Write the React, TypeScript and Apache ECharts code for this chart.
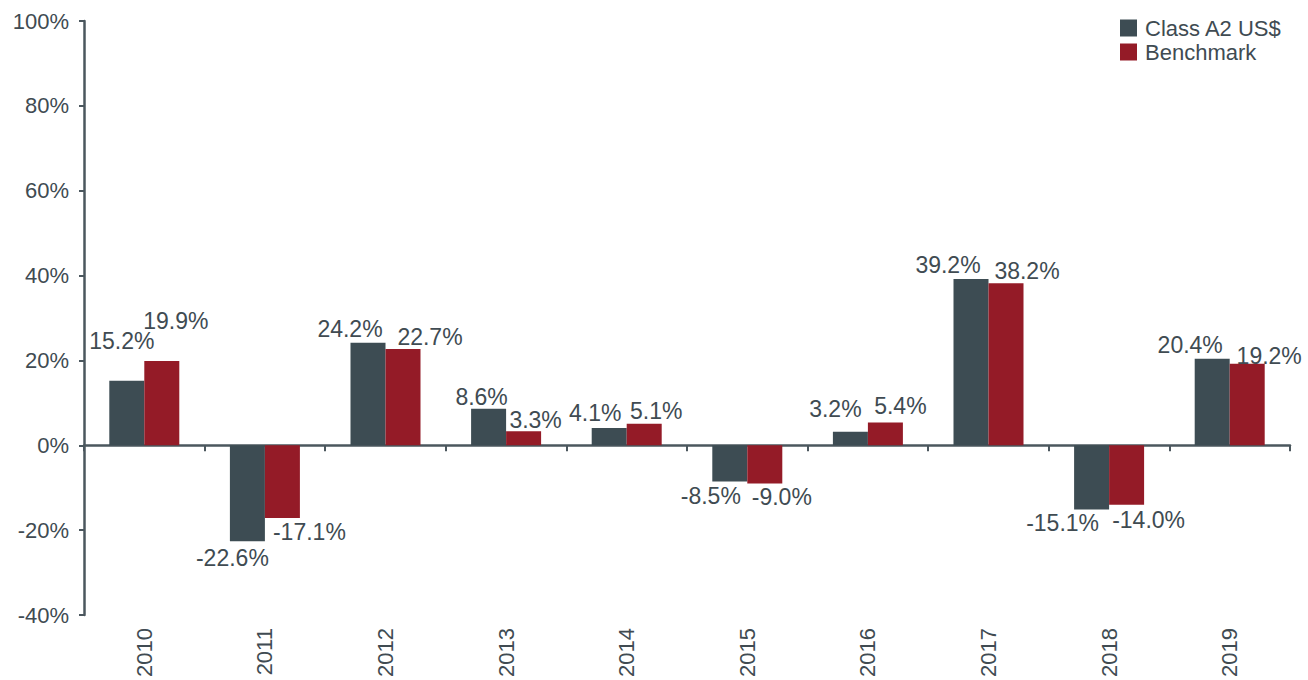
import React, { useEffect, useRef } from "react";
import * as echarts from "echarts";

const years = ["2010", "2011", "2012", "2013", "2014", "2015", "2016", "2017", "2018", "2019"];
const classA2 = [15.2, -22.6, 24.2, 8.6, 4.1, -8.5, 3.2, 39.2, -15.1, 20.4];
const benchmark = [19.9, -17.1, 22.7, 3.3, 5.1, -9.0, 5.4, 38.2, -14.0, 19.2];
const seriesNames = ["Class A2 US$", "Benchmark"];

// label placement tweaks (pixels): horizontal shift and distance of label centre from bar end
const classA2LabelDx = [-5, -15, -18, -7, -14, -19, -15, -23, -29, -22];
const classA2LabelGap = [40, 17, 14, 12, 14.5, 15, 23, 14, 13.5, 14];
const benchLabelDx = [14, 27, 27, 12, 12, 17, 15, 21, 22, 22];
const benchLabelGap = [40, 14, 12, 11, 13, 13, 16, 12, 15, 8];

const FONT = "'Liberation Sans', Arial, sans-serif";
const TEXT = "#404b52";
const AXIS = "#4b575e";
const DARK = "#3d4c53";
const RED = "#941b27";

function buildData(values: number[], dx: number[], gap: number[]) {
  return values.map((v, i) => ({
    value: v,
    label: {
      position: v >= 0 ? "top" : "bottom",
      offset: [dx[i], v >= 0 ? -(gap[i] - 11.5) : gap[i] - 11.5],
    },
  }));
}

export default function App() {
  const ref = useRef<HTMLDivElement>(null);
  useEffect(() => {
    if (!ref.current) return;
    const chart = echarts.init(ref.current, null, { renderer: "svg" });
    const labelStyle = {
      show: true,
      distance: 0,
      fontSize: 23,
      color: TEXT,
      fontFamily: FONT,
      formatter: (p: any) => p.value.toFixed(1) + "%",
    };
    chart.setOption({
      animation: false,
      textStyle: { fontFamily: FONT },
      grid: { left: 84, right: 18, top: 21, bottom: 63, containLabel: false },
      legend: {
        orient: "vertical",
        left: 1120,
        top: 17,
        padding: 0,
        itemWidth: 17,
        itemHeight: 17,
        itemGap: 2,
        icon: "rect",
        textStyle: { fontSize: 22, color: TEXT, fontFamily: FONT, padding: [0, 0, 0, 3] },
        data: seriesNames,
      },
      xAxis: [
        {
          type: "category",
          data: years,
          axisLine: { show: true, onZero: true, lineStyle: { color: AXIS, width: 2.5 } },
          axisTick: { show: true, length: 6, lineStyle: { color: AXIS, width: 2 } },
          axisLabel: { show: false },
          splitLine: { show: false },
        },
        {
          type: "category",
          data: years,
          position: "bottom",
          axisLine: { show: false, onZero: false },
          axisTick: { show: false },
          axisLabel: { show: true, rotate: 90, margin: 13, fontSize: 22, color: TEXT, fontFamily: FONT },
          splitLine: { show: false },
        },
      ],
      yAxis: {
        type: "value",
        min: -40,
        max: 100,
        interval: 20,
        axisLine: { show: true, lineStyle: { color: AXIS, width: 2.5 } },
        axisTick: { show: true, length: 5, lineStyle: { color: AXIS, width: 2 } },
        axisLabel: { formatter: "{value}%", fontSize: 22, color: TEXT, fontFamily: FONT, margin: 15 },
        splitLine: { show: false },
      },
      series: [
        {
          name: seriesNames[0],
          type: "bar",
          xAxisIndex: 0,
          barWidth: 35,
          barGap: "0%",
          itemStyle: { color: DARK },
          label: labelStyle,
          data: buildData(classA2, classA2LabelDx, classA2LabelGap),
        },
        {
          name: seriesNames[1],
          type: "bar",
          xAxisIndex: 0,
          barWidth: 35,
          barGap: "0%",
          itemStyle: { color: RED },
          label: labelStyle,
          data: buildData(benchmark, benchLabelDx, benchLabelGap),
        },
      ],
    });
    return () => chart.dispose();
  }, []);
  return (
    <div style={{ position: "absolute", left: 0, top: 0, width: 1308, height: 680, background: "#fff" }}>
      <div ref={ref} style={{ width: 1308, height: 680 }} />
    </div>
  );
}
